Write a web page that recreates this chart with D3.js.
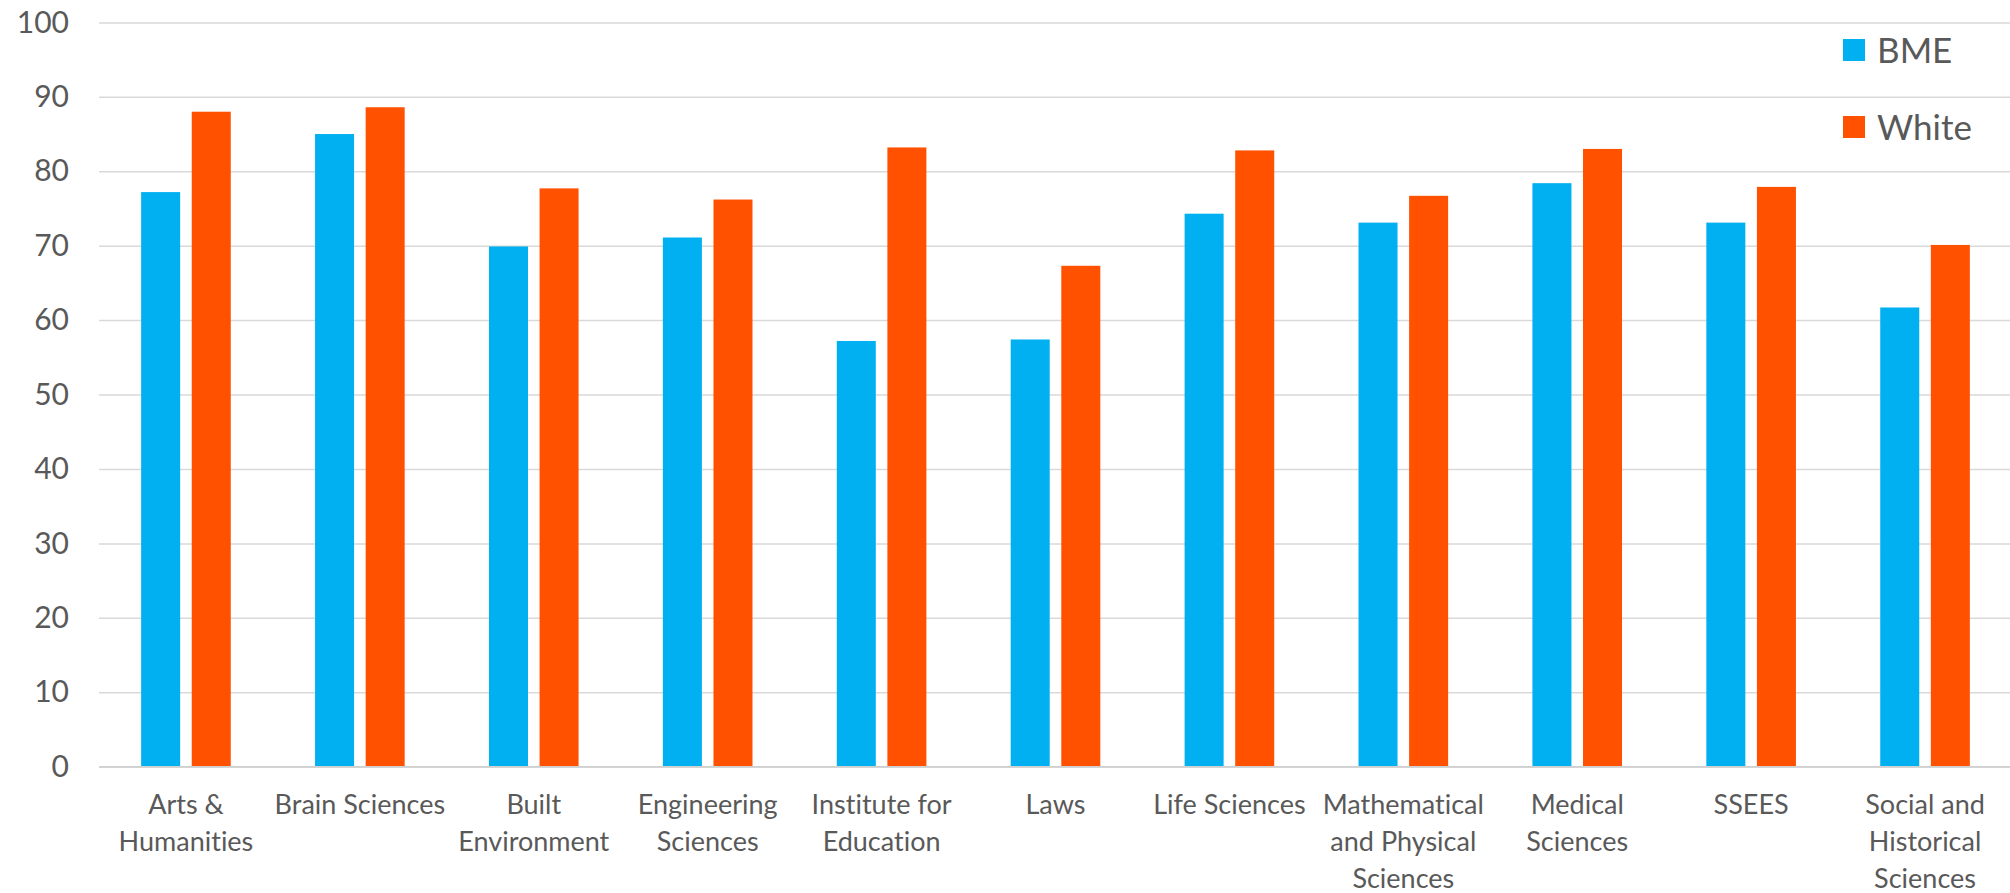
<!DOCTYPE html>
<meta charset="utf-8">
<script src="https://d3js.org/d3.v7.min.js"></script>
<style>
body {
  margin: 0;
  background: #fff;
  font-family: 'Lato', sans-serif;
}
text {
  font-variant-ligatures: none;
}
.axis .domain {
  display: none;
}
.grid line {
  stroke: #d9d9d9;
  stroke-width: 1.5;
}
</style>
<svg width="2010" height="893"></svg>

<script>
// data
var categories = ["Arts & Humanities", "Brain Sciences", "Built Environment", "Engineering Sciences",
  "Institute for Education", "Laws", "Life Sciences", "Mathematical and Physical Sciences",
  "Medical Sciences", "SSEES", "Social and Historical Sciences"];
var tickLines = [["Arts &", "Humanities"], ["Brain Sciences"], ["Built", "Environment"], ["Engineering", "Sciences"],
  ["Institute for", "Education"], ["Laws"], ["Life Sciences"], ["Mathematical", "and Physical", "Sciences"],
  ["Medical", "Sciences"], ["SSEES"], ["Social and", "Historical", "Sciences"]];
var seriesNames = ["BME", "White"];
var bme   = [77.2, 85.0, 69.9, 71.1, 57.2, 57.4, 74.3, 73.1, 78.4, 73.1, 61.7];
var white = [88.0, 88.6, 77.7, 76.2, 83.2, 67.3, 82.8, 76.7, 83.0, 77.9, 70.1];
var yTicks = [0, 10, 20, 30, 40, 50, 60, 70, 80, 90, 100];
var colors = ["#00b0f0", "#ff5100"];

var data = categories.map(function(c, i) {
  return {cat: c, BME: bme[i], White: white[i]};
});

var svg = d3.select("svg"),
    plotLeft = 99, plotRight = 2012, plotTop = 22.4, plotBottom = 766.7;

var x = d3.scaleBand()
  .domain(categories)
  .range([plotLeft, plotRight]);

var xs = d3.scaleBand()
  .domain(seriesNames)
  .range([0, x.bandwidth()])
  .paddingInner(0.229)
  .paddingOuter(0.833);

var y = d3.scaleLinear()
  .domain([0, 100])
  .range([plotBottom, plotTop]);

var z = d3.scaleOrdinal().domain(seriesNames).range(colors);

// gridlines
svg.append("g")
  .attr("class", "grid axis")
  .attr("transform", "translate(" + plotLeft + ",0)")
  .call(d3.axisLeft(y).tickValues(yTicks).tickSize(-(plotRight - plotLeft)).tickFormat(""));

// y labels
svg.append("g")
  .attr("class", "axis")
  .attr("transform", "translate(69,0)")
  .call(d3.axisLeft(y).tickValues(yTicks).tickSize(0).tickPadding(0))
  .call(function(g) {
    g.selectAll("text")
      .attr("fill", "#595959")
      .attr("font-family", "Lato, sans-serif")
      .attr("font-size", 30);
  });

// bars
svg.append("g")
  .selectAll("g")
  .data(data)
  .enter().append("g")
  .attr("transform", function(d) { return "translate(" + x(d.cat) + ",0)"; })
  .selectAll("rect")
  .data(function(d) { return seriesNames.map(function(k) { return {key: k, value: d[k]}; }); })
  .enter().append("rect")
  .attr("x", function(d) { return xs(d.key); })
  .attr("y", function(d) { return y(d.value); })
  .attr("width", xs.bandwidth())
  .attr("height", function(d) { return y(0) - y(d.value); })
  .attr("fill", function(d) { return z(d.key); });

// x axis line
svg.append("line")
  .attr("x1", plotLeft).attr("x2", plotRight)
  .attr("y1", y(0)).attr("y2", y(0))
  .attr("stroke", "#d0d0d0")
  .attr("stroke-width", 1.5);

// x labels, several lines each
var xAxis = svg.append("g")
  .attr("class", "axis")
  .attr("transform", "translate(0," + plotBottom + ")")
  .call(d3.axisBottom(x).tickSize(0).tickFormat(""));

xAxis.selectAll(".tick").each(function(c, i) {
  var t = d3.select(this).append("text")
    .attr("fill", "#595959")
    .attr("font-family", "Lato, sans-serif")
    .attr("font-size", 27)
    .attr("text-anchor", "middle");
  tickLines[i].forEach(function(s, j) {
    t.append("tspan")
      .attr("x", 0)
      .attr("y", 38 + j * 37)
      .attr("dy", "0.35em")
      .text(s);
  });
});

// legend
var legend = svg.append("g")
  .selectAll("g")
  .data(seriesNames)
  .enter().append("g")
  .attr("transform", function(d, i) { return "translate(1843," + (39 + i * 77) + ")"; });

legend.append("rect")
  .attr("width", 22)
  .attr("height", 22)
  .attr("fill", z);

legend.append("text")
  .attr("x", 34)
  .attr("y", 11)
  .attr("dy", "0.36em")
  .attr("fill", "#595959")
  .attr("font-family", "Lato, sans-serif")
  .attr("font-size", 35)
  .text(function(d) { return d; });
</script>
